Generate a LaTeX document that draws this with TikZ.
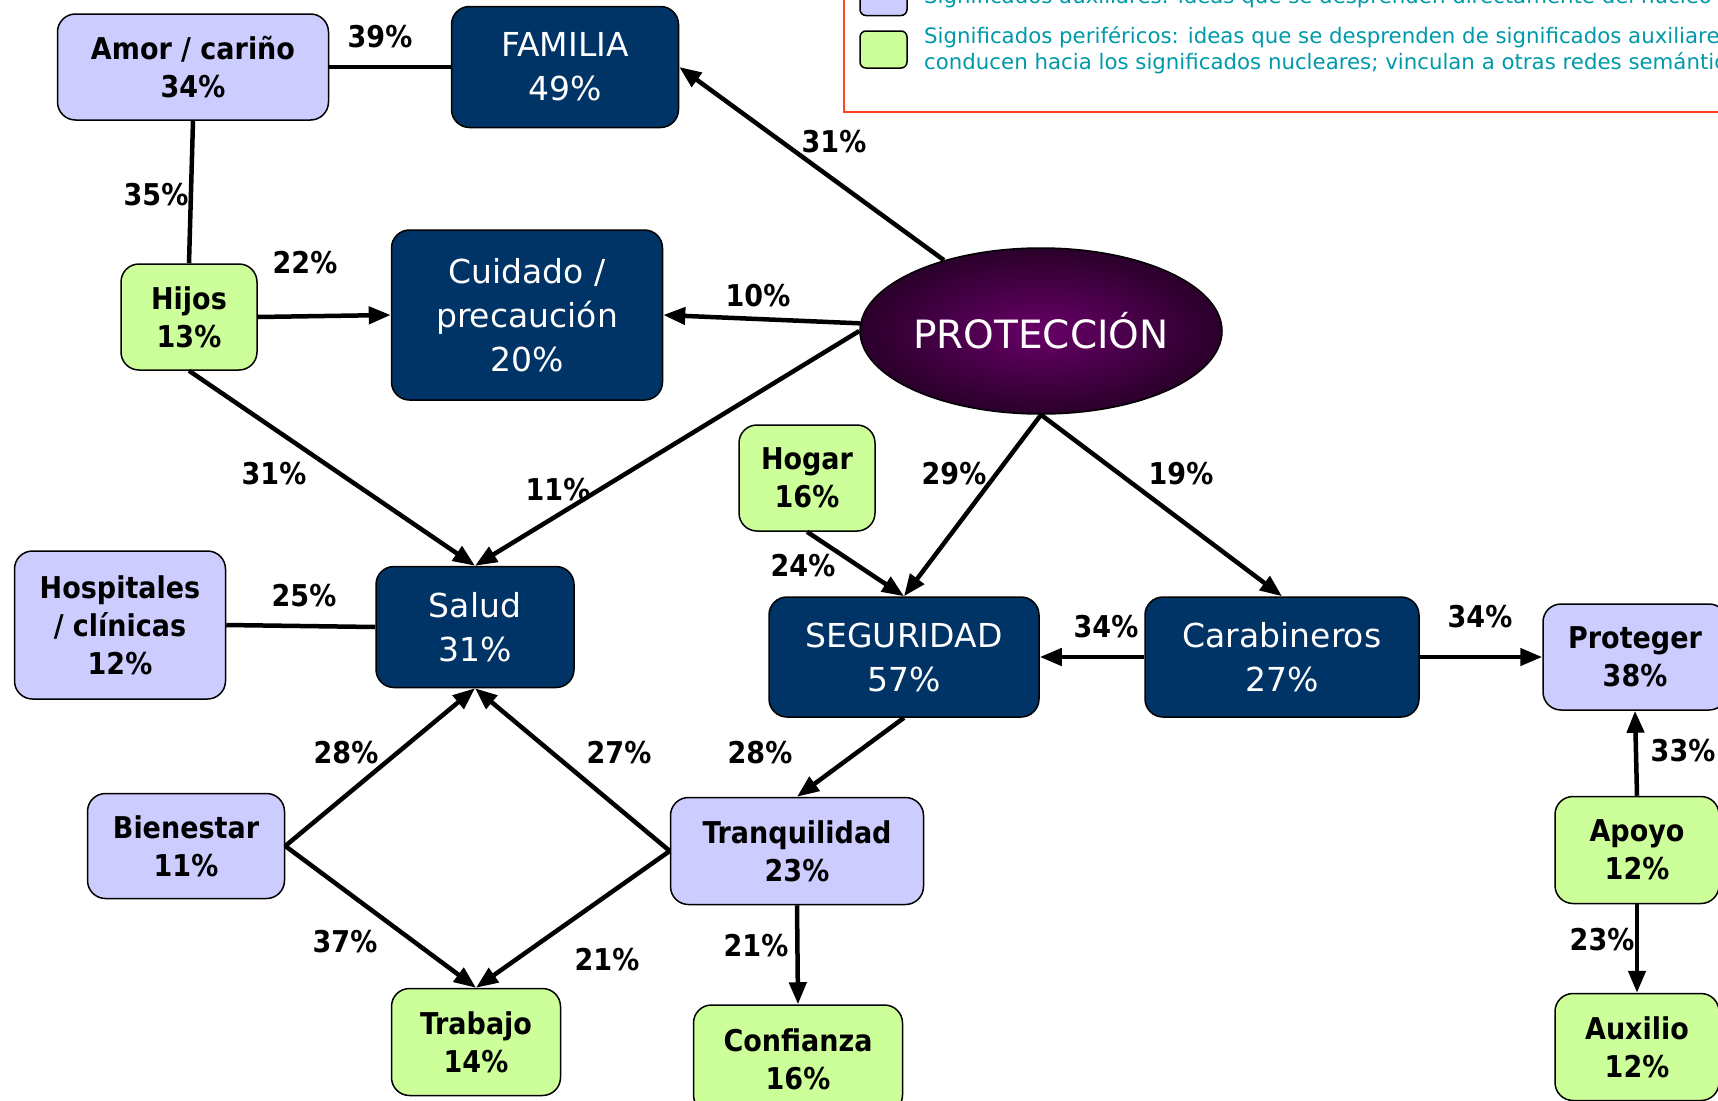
\documentclass[tikz,border=0pt]{standalone}
\usepackage{fontspec}
\setmainfont{DejaVu Sans}
\newfontfamily\cbold{DejaVu Sans Condensed Bold}
\newfontfamily\cond{DejaVu Sans}
\usetikzlibrary{arrows.meta,shapes.geometric}
\definecolor{navy}{HTML}{003366}
\definecolor{lilac}{HTML}{CCCCFF}
\definecolor{lime}{HTML}{CCFF99}
\definecolor{plum}{HTML}{680068}
\definecolor{plumdark}{HTML}{2A002A}
\definecolor{tealtxt}{HTML}{0099AA}
\definecolor{legred}{HTML}{FF4422}
\begin{document}
\begin{tikzpicture}[x=1pt,y=-1pt,
  box/.style={draw=black,line width=1.5pt,rounded corners=18pt,align=center,inner sep=0pt},
  core/.style={box,fill=navy,text=white,font=\fontsize{33}{44}\selectfont},
  aux/.style={box,fill=lilac,font=\cbold\fontsize{30}{38}\selectfont},
  peri/.style={box,fill=lime,font=\cbold\fontsize{30}{38}\selectfont},
  lbl/.style={font=\cbold\fontsize{30}{38}\selectfont,inner sep=0pt},
  legtxt/.style={font=\cond\fontsize{21.3}{26}\selectfont,text=tealtxt,inner sep=0pt,anchor=base west},
  swatch/.style={draw=black,line width=1.5pt,rounded corners=6pt,minimum width=47pt,minimum height=37pt,inner sep=0pt},
  conn/.style={line width=4.5pt},
  arr/.style={conn,-{Triangle[length=22pt,width=17pt]}},
]
\useasboundingbox (0,0) rectangle (1718,1100);
\clip (0,0) rectangle (1718,1100);
\fill[white] (0,0) rectangle (1718,1100);

% legend
\draw[legred,line width=2pt] (844,-20) rectangle (1760,112);
\node[swatch,fill=lilac] (swA) at (883.5,-3) {};
\node[swatch,fill=lime] (swB) at (883.5,49.5) {};
\node[legtxt] (legA) at (924,4) {Significados auxiliares: ideas que se desprenden directamente del núcleo};
\node[legtxt] (legB1) at (924,43) {Significados periféricos: ideas que se desprenden de significados auxiliares y};
\node[legtxt] (legB2) at (924,69) {conducen hacia los significados nucleares; vinculan a otras redes semánticas};

% nodes
\node[aux,minimum width=271pt,minimum height=106pt] (amor) at (193,67) {Amor / cariño\\34\%};
\node[core,minimum width=227pt,minimum height=121pt] (fam) at (565,67) {FAMILIA\\49\%};
\node[peri,minimum width=136pt,minimum height=106pt] (hijos) at (189,317) {Hijos\\13\%};
\node[core,minimum width=271pt,minimum height=170pt] (cuid) at (527,315) {Cuidado /\\precaución\\20\%};
\node[ellipse,draw=black,line width=1.5pt,inner sep=0pt,minimum width=362pt,minimum height=166pt,inner color=plum,outer color=plumdark,text=white,font=\fontsize{39}{46}\selectfont] (prot) at (1041,331) {PROTECCIÓN};
\node[peri,minimum width=136pt,minimum height=106pt] (hogar) at (807,478) {Hogar\\16\%};
\node[core,minimum width=198pt,minimum height=121pt] (salud) at (475,627) {Salud\\31\%};
\node[aux,minimum width=211pt,minimum height=148pt] (hosp) at (120,625) {Hospitales\\/ clínicas\\12\%};
\node[core,minimum width=270pt,minimum height=120pt] (seg) at (904,657) {SEGURIDAD\\57\%};
\node[core,minimum width=274pt,minimum height=120pt] (carab) at (1282,657) {Carabineros\\27\%};
\node[aux,minimum width=184pt,minimum height=106pt] (proteger) at (1635,657) {Proteger\\38\%};
\node[peri,minimum width=164pt,minimum height=107pt] (apoyo) at (1637,850) {Apoyo\\12\%};
\node[peri,minimum width=164pt,minimum height=107pt] (auxilio) at (1637,1047) {Auxilio\\12\%};
\node[aux,minimum width=197pt,minimum height=105pt] (bien) at (186,846) {Bienestar\\11\%};
\node[aux,minimum width=253pt,minimum height=107pt] (tranq) at (797,851) {Tranquilidad\\23\%};
\node[peri,minimum width=169pt,minimum height=107pt] (trab) at (476,1042) {Trabajo\\14\%};
\node[peri,minimum width=209pt,minimum height=108pt] (conf) at (798,1059) {Confianza\\16\%};

% connectors
\draw[conn] (amor.east) -- (fam.west);
\draw[conn] (amor.south) -- (hijos.north);
\draw[arr] (hijos.east) -- (cuid.west);
\draw[arr] (prot) -- (fam.east);
\draw[arr] (prot) -- (cuid.east);
\draw[arr] (prot.west) -- (salud.north);
\draw[arr] (hijos.south) -- (salud.north);
\draw[arr] (prot.south) -- (seg.north);
\draw[arr] (prot.south) -- (carab.north);
\draw[arr] (hogar.south) -- (seg.north);
\draw[arr] (carab.west) -- (seg.east);
\draw[arr] (carab.east) -- (proteger.west);
\draw[arr] (apoyo.north) -- (proteger.south);
\draw[arr] (apoyo.south) -- (auxilio.north);
\draw[conn] (hosp.east) -- (salud.west);
\draw[arr] (bien.east) -- (salud.south);
\draw[arr] (tranq.west) -- (salud.south);
\draw[arr] (bien.east) -- (trab.north);
\draw[arr] (tranq.west) -- (trab.north);
\draw[arr] (seg.south) -- (tranq.north);
\draw[arr] (tranq.south) -- (conf.north);

% labels
\node[lbl] (l1) at (380,37) {39\%};
\node[lbl] (l2) at (156,195) {35\%};
\node[lbl] (l3) at (305,263) {22\%};
\node[lbl] (l4) at (834,142) {31\%};
\node[lbl] (l5) at (758,296) {10\%};
\node[lbl] (l6) at (274,474) {31\%};
\node[lbl] (l7) at (558,490) {11\%};
\node[lbl] (l8) at (954,474) {29\%};
\node[lbl] (l9) at (1181,474) {19\%};
\node[lbl] (l10) at (803,566) {24\%};
\node[lbl] (l11) at (304,596) {25\%};
\node[lbl] (l12) at (1106,627) {34\%};
\node[lbl] (l13) at (1480,617) {34\%};
\node[lbl] (l14) at (346,753) {28\%};
\node[lbl] (l15) at (619,753) {27\%};
\node[lbl] (l16) at (760,753) {28\%};
\node[lbl] (l17) at (1683,751) {33\%};
\node[lbl] (l18) at (345,942) {37\%};
\node[lbl] (l19) at (607,960) {21\%};
\node[lbl] (l20) at (756,946) {21\%};
\node[lbl] (l21) at (1602,940) {23\%};
\end{tikzpicture}
\end{document}
